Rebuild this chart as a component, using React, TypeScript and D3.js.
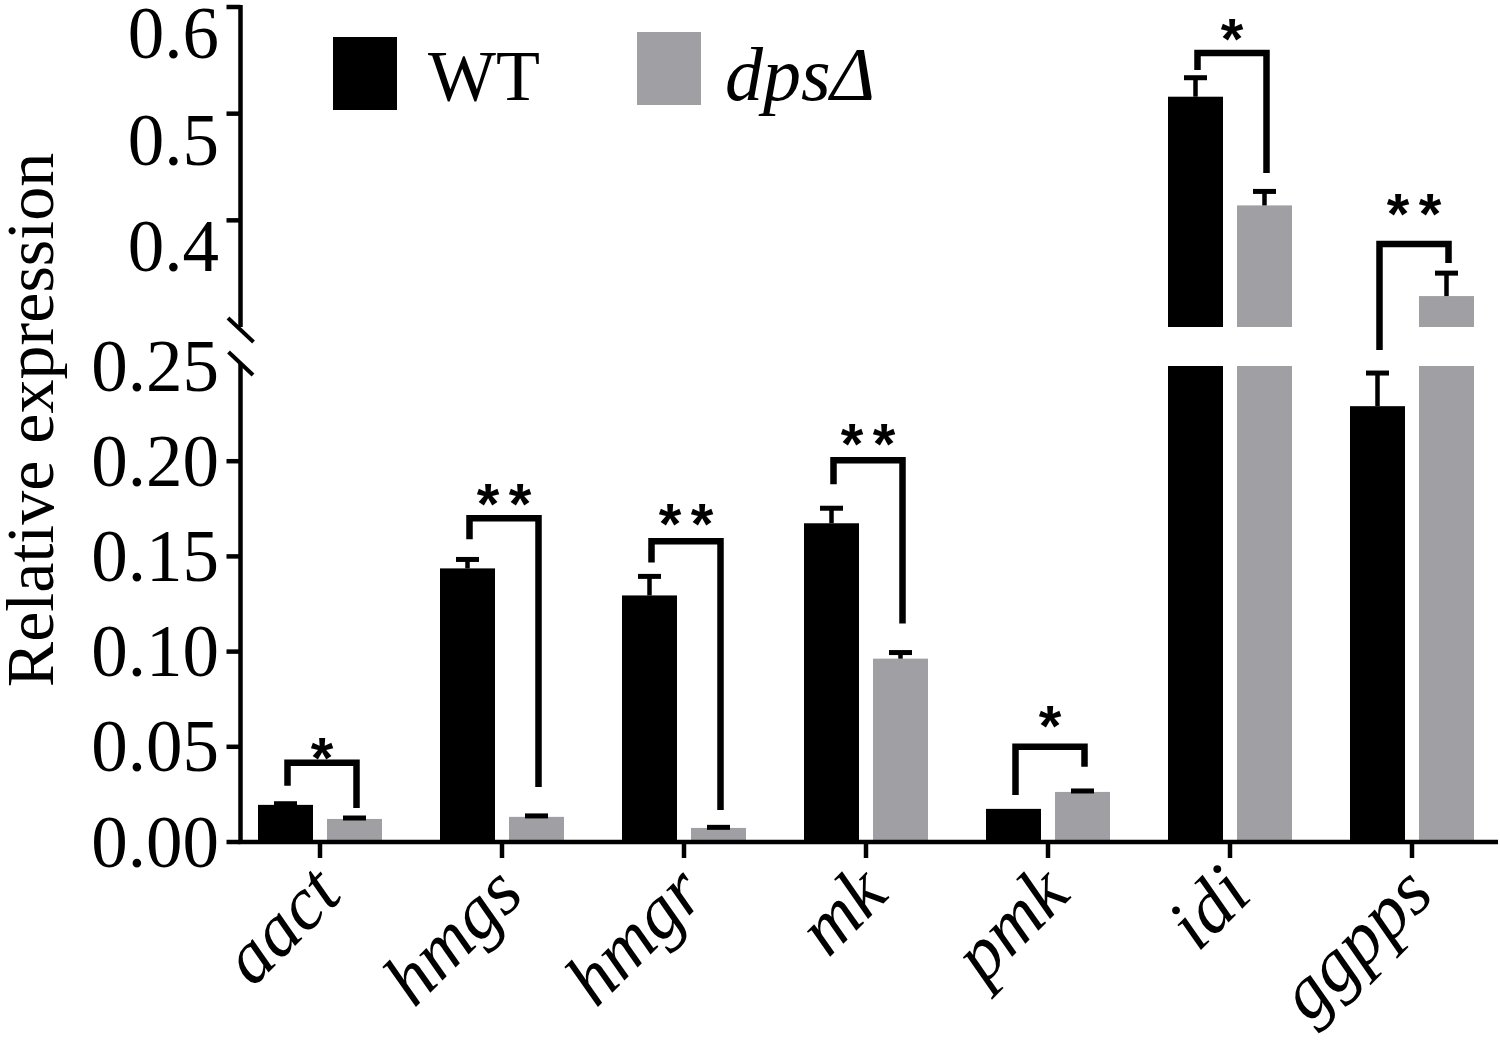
import React from "react";
import * as d3 from "d3";

const genes = ["aact", "hmgs", "hmgr", "mk", "pmk", "idi", "ggpps"];
const series = ["WT", "dps"];
const wtMean = [0.0195, 0.1437, 0.1295, 0.1674, 0.0174, 0.5159, 0.2289];
const wtErr = [0.0006, 0.0047, 0.01, 0.0079, 0.0, 0.0178, 0.0174];
const dpsMean = [0.0121, 0.0132, 0.0074, 0.0963, 0.0263, 0.414, 0.329];
const dpsErr = [0.0005, 0.0005, 0.0003, 0.0032, 0.0005, 0.0131, 0.0215];

// significance brackets: [horizontal, left leg end, right leg end, star level]
const sigLabel = ["*", "**", "**", "**", "*", "*", "**"];
const sigTop = [0.0416, 0.17, 0.1579, 0.2005, 0.05, 0.5569, 0.3778];
const sigLeft = [0.0295, 0.159, 0.1468, 0.1879, 0.0247, 0.5409, 0.2705];
const sigRight = [0.0179, 0.0289, 0.0168, 0.1147, 0.0395, 0.4444, 0.36];
const sigStar = [0.0511, 0.1842, 0.1737, 0.2158, 0.0679, 0.5822, 0.4181];

const lowerTicks = [0, 0.05, 0.1, 0.15, 0.2, 0.25];
const upperTicks = [0.4, 0.5, 0.6];
const lowerDomain = [0, 0.25];
const upperDomain = [0.3, 0.6];

const BLACK = "#000000";
const GRAY = "#a0a0a4";
const SERIF = "'Liberation Serif', 'Times New Roman', Times, serif";
const SANS = "'Liberation Sans', Arial, sans-serif";

export default function App() {
  const W = 1500;
  const H = 1041;
  const axisX = 240.5;
  const lower = d3.scaleLinear().domain(lowerDomain).range([842, 366]);
  const upper = d3.scaleLinear().domain(upperDomain).range([327, 7]);
  const gap = d3
    .scaleLinear()
    .domain([lowerDomain[1], upperDomain[0]])
    .range([lower(lowerDomain[1]), upper(upperDomain[0])]);
  const y = (v: number) =>
    v <= lowerDomain[1] ? lower(v) : v >= upperDomain[0] ? upper(v) : gap(v);

  const x0 = d3.scaleBand().domain(genes).range([229, 229 + 182 * genes.length]).paddingInner(0);
  const x1 = d3.scaleBand().domain(series).range([-62, 62]).paddingInner(14 / 69);
  const center = (g: string) => (x0(g) as number) + x0.bandwidth() / 2;
  const bw = x1.bandwidth();
  const barCx = (g: string, s: string) => center(g) + (x1(s) as number) + bw / 2;

  const means: Record<string, number[]> = { WT: wtMean, dps: dpsMean };
  const errs: Record<string, number[]> = { WT: wtErr, dps: dpsErr };
  const colors: Record<string, string> = { WT: BLACK, dps: GRAY };

  const bars: React.ReactNode[] = [];
  const errorBars: React.ReactNode[] = [];
  genes.forEach((g, i) => {
    series.forEach((s) => {
      const v = means[s][i];
      const e = errs[s][i];
      const bx = center(g) + (x1(s) as number);
      const cx = barCx(g, s);
      if (v <= lowerDomain[1]) {
        bars.push(
          <rect key={`b-${g}-${s}`} x={bx} width={bw} y={lower(v)} height={lower(0) - lower(v)} fill={colors[s]} />
        );
      } else {
        bars.push(
          <rect key={`bl-${g}-${s}`} x={bx} width={bw} y={lower(lowerDomain[1])} height={lower(0) - lower(lowerDomain[1])} fill={colors[s]} />
        );
        bars.push(
          <rect key={`bu-${g}-${s}`} x={bx} width={bw} y={upper(v)} height={upper(upperDomain[0]) - upper(v)} fill={colors[s]} />
        );
      }
      if (e > 0) {
        const yTop = y(v + e);
        errorBars.push(
          <g key={`e-${g}-${s}`}>
            <line x1={cx} x2={cx} y1={y(v)} y2={yTop} stroke={BLACK} strokeWidth={4.5} />
            <line x1={cx - 11.5} x2={cx + 11.5} y1={yTop} y2={yTop} stroke={BLACK} strokeWidth={5} />
          </g>
        );
      }
    });
  });

  const brackets = genes.map((g, i) => {
    const xl = barCx(g, "WT") + 2;
    const xr = barCx(g, "dps") + 2;
    const d = `M${xl},${y(sigLeft[i])}V${y(sigTop[i])}H${xr}V${y(sigRight[i])}`;
    const n = sigLabel[i].length;
    const mid = (xl + xr) / 2;
    const offs = n === 1 ? [0] : [-16, 16];
    return (
      <g key={`s-${g}`}>
        <path d={d} fill="none" stroke={BLACK} strokeWidth={6.5} strokeLinejoin="miter" />
        {offs.map((o, k) => (
          <text
            key={k}
            x={mid + o}
            y={y(sigStar[i]) + 33}
            textAnchor="middle"
            fontFamily={SANS}
            fontWeight="bold"
            fontSize={58}
            fill={BLACK}
          >
            *
          </text>
        ))}
      </g>
    );
  });

  const fmtLower = d3.format(".2f");
  const fmtUpper = d3.format(".1f");

  return (
    <svg width={W} height={H} style={{ position: "absolute", left: 0, top: 0, background: "#fff" }}>
      <rect x={0} y={0} width={W} height={H} fill="#fff" />
      {bars}
      {errorBars}
      {brackets}

      {/* Y axis */}
      <line x1={axisX} x2={axisX} y1={upper(upperDomain[1]) - 2} y2={upper(upperDomain[0])} stroke={BLACK} strokeWidth={4.5} />
      <line x1={axisX} x2={axisX} y1={lower(lowerDomain[1]) - 3} y2={lower(0) + 2} stroke={BLACK} strokeWidth={4.5} />
      {/* break marks */}
      <line x1={axisX - 12.5} x2={axisX + 13} y1={upper(upperDomain[0]) - 9} y2={upper(upperDomain[0]) + 15} stroke={BLACK} strokeWidth={4} />
      <line x1={axisX - 12} x2={axisX + 12.5} y1={lower(lowerDomain[1]) - 14} y2={lower(lowerDomain[1]) + 9} stroke={BLACK} strokeWidth={4} />

      {lowerTicks.map((t) => (
        <g key={`lt-${t}`}>
          {t < lowerDomain[1] && (
            <line x1={axisX - 14} x2={axisX} y1={lower(t)} y2={lower(t)} stroke={BLACK} strokeWidth={4.5} />
          )}
          <text x={219} y={lower(t) + 24.5} textAnchor="end" fontFamily={SERIF} fontSize={73} fill={BLACK}>
            {fmtLower(t)}
          </text>
        </g>
      ))}
      {upperTicks.map((t) => (
        <g key={`ut-${t}`}>
          <line x1={axisX - 14} x2={axisX} y1={upper(t)} y2={upper(t)} stroke={BLACK} strokeWidth={4.5} />
          <text x={219} y={upper(t) + 51} textAnchor="end" fontFamily={SERIF} fontSize={73} fill={BLACK}>
            {fmtUpper(t)}
          </text>
        </g>
      ))}

      <text
        transform={`translate(53,420) rotate(-90)`}
        textAnchor="middle"
        fontFamily={SERIF}
        fontSize={68}
        fill={BLACK}
      >
        Relative expression
      </text>

      {/* X axis */}
      <line x1={axisX - 2} x2={1498} y1={lower(0)} y2={lower(0)} stroke={BLACK} strokeWidth={4.5} />
      {genes.map((g) => (
        <g key={`xt-${g}`}>
          <line x1={center(g)} x2={center(g)} y1={lower(0)} y2={lower(0) + 16} stroke={BLACK} strokeWidth={4.5} />
          <text
            transform={`translate(${center(g) + 24},${897}) rotate(-45)`}
            textAnchor="end"
            fontFamily={SERIF}
            fontStyle="italic"
            fontSize={75}
            fill={BLACK}
          >
            {g}
          </text>
        </g>
      ))}

      {/* Legend */}
      <rect x={333} y={37} width={64} height={73} fill={BLACK} />
      <text x={428} y={100} fontFamily={SERIF} fontSize={72} fill={BLACK}>
        WT
      </text>
      <rect x={637} y={32} width={64} height={73} fill={GRAY} />
      <text x={725} y={100} fontFamily={SERIF} fontStyle="italic" fontSize={76} fill={BLACK}>
        dpsΔ
      </text>
    </svg>
  );
}
